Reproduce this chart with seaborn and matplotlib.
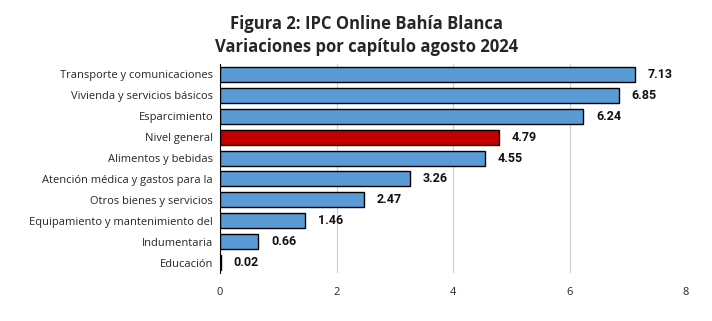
import matplotlib
matplotlib.use("Agg")
import matplotlib.pyplot as plt
import seaborn as sns
import pandas as pd

categories = ["Transporte y comunicaciones", "Vivienda y servicios básicos", "Esparcimiento",
              "Nivel general", "Alimentos y bebidas", "Atención médica y gastos para la",
              "Otros bienes y servicios", "Equipamiento y mantenimiento del",
              "Indumentaria", "Educación"]
values = [7.13, 6.85, 6.24, 4.79, 4.55, 3.26, 2.47, 1.46, 0.66, 0.02]
highlight = "Nivel general"
xticks = [0, 2, 4, 6, 8]

sns.set_theme(style="white")
plt.rcParams['font.family'] = ['Open Sans', 'DejaVu Sans']

df = pd.DataFrame({"cat": categories, "val": values})
palette = {c: ("#C00000" if c == highlight else "#5B9BD5") for c in categories}

fig = plt.figure(figsize=(7.12, 3.21), dpi=100)
ax = fig.add_axes([0.309, 0.1495, 0.6545, 0.651])
sns.barplot(data=df, y="cat", x="val", hue="cat", palette=palette, order=categories,
            dodge=False, legend=False, width=0.72, edgecolor="black", linewidth=1.0,
            saturation=1, ax=ax)

for cont in ax.containers:
    ax.bar_label(cont, fmt="%.2f", padding=9, fontsize=9, fontweight="bold",
                 family=["Roboto", "DejaVu Sans"], color="#111111")

ax.set_xlim(0, 8)
ax.set_xticks(xticks)
ax.set_xticklabels([str(t) for t in xticks], fontsize=8)
ax.tick_params(axis="y", labelsize=8, length=0, pad=5)
ax.tick_params(axis="x", length=0, pad=10)
ax.set_xlabel("")
ax.set_ylabel("")
ax.xaxis.grid(True, color="#D0D0D0", linewidth=0.8)
ax.set_axisbelow(True)
for s in ["top", "right", "bottom"]:
    ax.spines[s].set_visible(False)
ax.spines["left"].set_color("black")
ax.spines["left"].set_linewidth(0.8)

fig.text(0.515, 0.925, "Figura 2: IPC Online Bahía Blanca", ha="center", va="center",
         fontsize=12, fontweight="bold")
fig.text(0.515, 0.853, "Variaciones por capítulo agosto 2024", ha="center", va="center",
         fontsize=12, fontweight="bold")

fig.savefig("out.png", dpi=100)
